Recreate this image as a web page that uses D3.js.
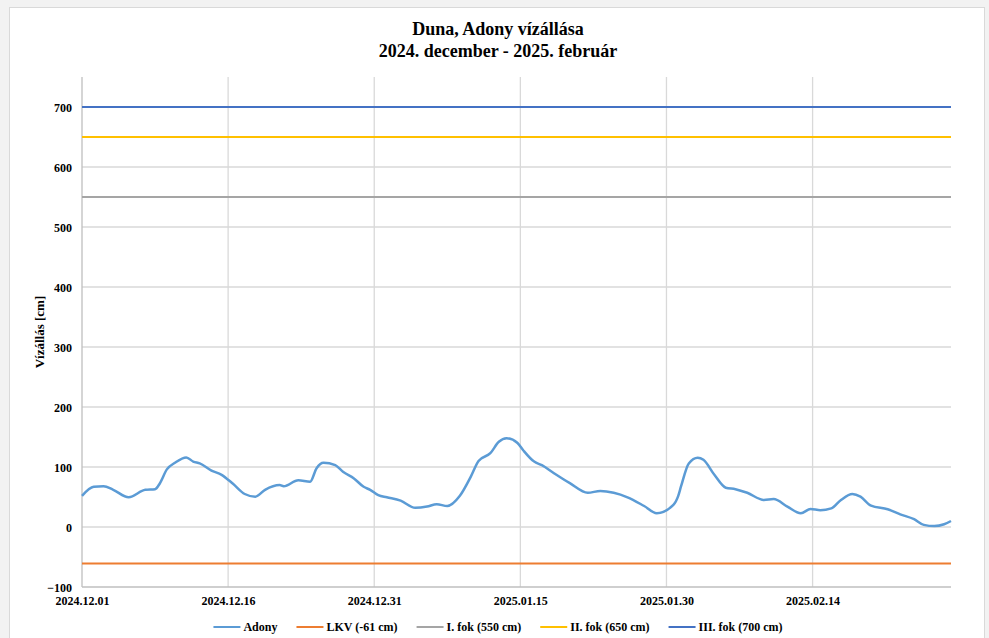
<!DOCTYPE html>
<html>
<head>
<meta charset="utf-8">
<script src="https://cdn.jsdelivr.net/npm/d3@7"></script>
<style>
  body { margin: 0; background: #f2f2f2; }
  text { font-family: "Liberation Serif", "Times New Roman", serif; font-weight: bold; fill: #000; }
</style>
</head>
<body>
<svg id="chart" width="989" height="638"></svg>
<script>
// Duna, Adony water level, days counted from 2024-12-01 00:00
var startDate = new Date(2024, 11, 1);
var dayOffsets = [0, 1.2, 2.2, 3.2, 4.8, 6.5, 7.5, 8.0, 8.7, 9.55, 10.7, 11.4, 12.1, 13.3, 14.35,
    15.5, 16.7, 17.8, 18.8, 20.3, 20.7, 22.2, 23.4, 24.1, 24.8, 26.0, 26.8, 27.9, 28.9, 29.6,
    30.4, 31.3, 32.7, 34.2, 35.4, 36.4, 37.5, 38.8, 39.9, 40.7, 41.9, 42.8, 43.6, 44.7, 45.3,
    46.4, 47.2, 48.4, 50.1, 51.9, 53.2, 54.6, 56.0, 57.7, 59.0, 60.7, 61.2, 61.5, 62.3, 63.2,
    63.8, 64.9, 66.1, 67.1, 68.3, 70.0, 71.0, 72.4, 73.8, 74.8, 75.8, 76.9, 77.9, 79.1, 79.9,
    81.0, 82.7, 84.0, 85.4, 86.4, 87.5, 88.5, 89.2];
var adonyLevels = [52, 67, 68, 62, 49.5, 62, 63, 73, 96, 107, 116, 109, 106, 94, 87,
    72, 55, 50.5, 62, 70, 68, 78, 75.5, 98, 107, 103, 92, 81, 67, 62,
    53, 49.5, 44, 32, 34, 38, 35, 52, 84, 110, 123, 142, 148, 140, 128,
    109, 103, 90, 73, 57, 60, 57, 49.5, 35, 23, 37, 52, 68, 106, 115.5,
    112, 87, 65.5, 63, 57, 45, 46.5, 34, 23, 30, 28, 31, 45, 55, 50.5,
    35.5, 29.5, 21, 13, 3.5, 1.5, 4.5, 10];

var thresholdNames = ['LKV (-61 cm)', 'I. fok (550 cm)', 'II. fok (650 cm)', 'III. fok (700 cm)'];
var thresholdValues = [-61, 550, 650, 700];
var thresholdColors = ['#ed7d31', '#a5a5a5', '#ffc000', '#4472c4'];
var adonyColor = '#5b9bd5';

var yTicks = [-100, 0, 100, 200, 300, 400, 500, 600, 700];
var xTickLabels = ['2024.12.01', '2024.12.16', '2024.12.31', '2025.01.15', '2025.01.30', '2025.02.14'];

var parseTick = d3.timeParse('%Y.%m.%d');
var data = dayOffsets.map(function (d, i) {
    return { date: d3.timeHour.offset(startDate, Math.round(d * 24)), value: adonyLevels[i] };
});

var svg = d3.select('#chart');
var plotLeft = 82, plotRight = 951, plotTop = 77, plotBottom = 587;

// chart area
svg.append('rect')
    .attr('x', 9.5).attr('y', 7.5)
    .attr('width', 975).attr('height', 640)
    .style('fill', '#fff')
    .style('stroke', '#d9d9d9');

var x = d3.scaleTime()
    .domain([startDate, data[data.length - 1].date])
    .range([plotLeft, plotRight]);

var y = d3.scaleLinear()
    .domain([-100, 750])
    .range([plotBottom, plotTop]);

// gridlines
svg.append('g').selectAll('line')
    .data(yTicks.slice(1))
    .enter().append('line')
    .attr('x1', plotLeft).attr('x2', plotRight)
    .attr('y1', d => y(d)).attr('y2', d => y(d))
    .style('stroke', '#d9d9d9').style('stroke-width', 1.3);

svg.append('g').selectAll('line')
    .data(xTickLabels.slice(1))
    .enter().append('line')
    .attr('x1', d => x(parseTick(d))).attr('x2', d => x(parseTick(d)))
    .attr('y1', plotTop).attr('y2', plotBottom)
    .style('stroke', '#d9d9d9').style('stroke-width', 1.3);

// axes
var yAxis = svg.append('g')
    .attr('transform', 'translate(' + plotLeft + ',0)')
    .call(d3.axisLeft(y).tickValues(yTicks).tickSize(0).tickPadding(10));
yAxis.select('.domain').attr('d', 'M0,' + plotTop + 'V' + plotBottom).style('stroke', '#bfbfbf').style('stroke-width', 1.3);
yAxis.selectAll('text').style('font-size', '12px').attr('dy', '0.35em');

var xAxis = svg.append('g')
    .attr('transform', 'translate(0,' + plotBottom + ')')
    .call(d3.axisBottom(x).tickValues(xTickLabels.map(parseTick))
        .tickFormat(d3.timeFormat('%Y.%m.%d')).tickSize(0).tickPadding(9));
xAxis.select('.domain').attr('d', 'M' + plotLeft + ',0H' + plotRight).style('stroke', '#bfbfbf').style('stroke-width', 1.3);
xAxis.selectAll('text').style('font-size', '12px');

// threshold lines
svg.append('g').selectAll('line')
    .data(thresholdValues)
    .enter().append('line')
    .attr('x1', plotLeft).attr('x2', plotRight)
    .attr('y1', d => y(d)).attr('y2', d => y(d))
    .style('stroke', (d, i) => thresholdColors[i])
    .style('stroke-width', 2);

// water level
var line = d3.line()
    .x(d => x(d.date))
    .y(d => y(d.value))
    .curve(d3.curveMonotoneX);

svg.append('path')
    .datum(data)
    .attr('d', line)
    .style('fill', 'none')
    .style('stroke', adonyColor)
    .style('stroke-width', 2.5);

// titles
svg.append('text').attr('x', 498).attr('y', 35).attr('text-anchor', 'middle')
    .style('font-size', '18px').text('Duna, Adony vízállása');
svg.append('text').attr('x', 498).attr('y', 57).attr('text-anchor', 'middle')
    .style('font-size', '18px').text('2024. december - 2025. február');

svg.append('text')
    .attr('transform', 'translate(44,332) rotate(-90)')
    .attr('text-anchor', 'middle')
    .style('font-size', '13px')
    .text('Vízállás [cm]');

// legend
var legendNames = ['Adony'].concat(thresholdNames);
var legendColors = [adonyColor].concat(thresholdColors);
var legend = svg.append('g');
var items = legend.selectAll('g')
    .data(legendNames)
    .enter().append('g');
items.append('line')
    .attr('x1', 0).attr('x2', 27).attr('y1', 0).attr('y2', 0)
    .style('stroke', (d, i) => legendColors[i])
    .style('stroke-width', 2);
items.append('text')
    .attr('x', 30).attr('y', 4)
    .style('font-size', '12px')
    .text(d => d);

var widths = [];
items.each(function () { widths.push(30 + d3.select(this).select('text').node().getComputedTextLength()); });
var total = d3.sum(widths) + 19 * (widths.length - 1);
var pos = 498 - total / 2;
items.attr('transform', function (d, i) {
    var t = 'translate(' + pos + ',627)';
    pos += widths[i] + 19;
    return t;
});
</script>
</body>
</html>
